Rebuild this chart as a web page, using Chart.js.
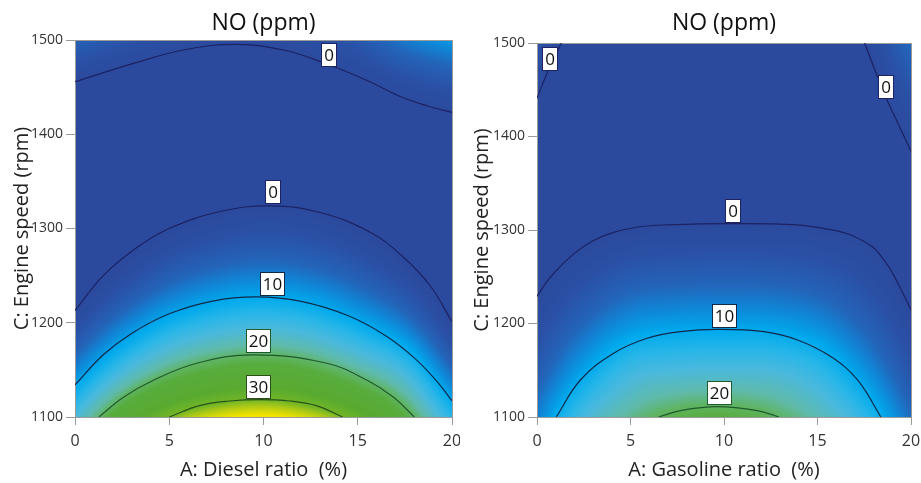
<!DOCTYPE html>
<html>
<head>
<meta charset="utf-8">
<script src="https://cdn.jsdelivr.net/npm/chart.js@4.4.1/dist/chart.umd.min.js"></script>
<style>
  html, body { margin: 0; padding: 0; background: #fff; }
  #wrap { position: relative; width: 921px; height: 483px; }
  canvas { position: absolute; top: 0; }
</style>
</head>
<body>
<div id="wrap">
  <canvas id="chartDiesel" width="460" height="483" style="left:0"></canvas>
  <canvas id="chartGasoline" width="461" height="483" style="left:460px"></canvas>
</div>
<script>
// response grid (rows = engine speed, columns = blend ratio)
const gridX = [0, 2.5, 5, 7.5, 10, 12.5, 15, 17.5, 20];
const gridC = [1100, 1150, 1200, 1250, 1300, 1350, 1400, 1450, 1500];

const dieselNO = [
  [15, 24.2, 30, 33.0, 34, 32.4, 28.5, 22, 12.5],
  [7.2, 14.4, 19.4, 22.1, 23.1, 21.7, 18.4, 14.1, 5.3],
  [1.2, 6.6, 10.8, 13.2, 14.1, 13.0, 10.2, 6.5, -0.1],
  [-2.8, 0.9, 4.2, 6.2, 7.0, 6.2, 4.1, 1.0, -3.3],
  [-5.1, -2.8, -0.4, 1.1, 1.8, 1.3, -0.1, -2.2, -4.7],
  [-5.4, -4.4, -3.0, -2.0, -1.5, -1.6, -2.2, -3.3, -4.2],
  [-3.9, -4.0, -3.6, -3.1, -2.8, -2.5, -2.4, -2.1, -1.8],
  [-0.5, -1.6, -2.2, -2.3, -2.2, -1.5, -0.6, 1.1, 2.5],
  [4.7, 2.8, 1.2, 0.4, 0.3, 1.4, 3.2, 6.6, 8.8]
];

const gasolineNO = [
  [7, 14.7, 18.8, 21.3, 21.9, 20.5, 17.5, 12.9, 5.5],
  [3.7, 9.5, 13.9, 14.9, 15.1, 14.9, 13.0, 8.35, 2.6],
  [1.1, 5.2, 8.3, 9.1, 9.2, 9.1, 7.8, 4.6, 0.46],
  [-0.64, 1.75, 3.7, 4.2, 4.35, 4.2, 3.5, 1.7, -0.8],
  [-1.6, -0.8, 0, 0.34, 0.4, 0.4, 0.1, -0.34, -1.2],
  [-1.75, -2.5, -2.8, -2.6, -2.6, -2.6, -2.4, -1.5, -0.78],
  [-1.1, -3.3, -4.8, -4.65, -4.6, -4.6, -3.9, -1.9, 0.5],
  [0.3, -3.25, -5.8, -5.7, -5.7, -5.5, -4.6, -1.4, 2.6],
  [2.5, -2.3, -5.9, -5.9, -5.9, -5.5, -3.5, 0, 5.6]
];

// contour lines, diesel
const dZeroTopX = [0, 3.1, 5.75, 8.4, 11.06, 13.5, 15.5, 17.25, 18.7, 20];
const dZeroTopC = [1455.7, 1475.2, 1489.4, 1495.4, 1489.4, 1473.5, 1457, 1440, 1430, 1423.2];
const dZeroMidX = [0, 1.5, 3.3, 5, 7.7, 10.35, 13, 15.66, 17.4, 18.85, 20];
const dZeroMidC = [1213, 1250, 1280, 1300, 1318, 1324, 1317, 1296, 1270, 1239, 1201];
const dTenX = [0, 1.5, 3, 5, 7.3, 9.6, 12, 14.5, 16.5, 18, 19.2, 20];
const dTenC = [1134, 1166, 1188.7, 1209.5, 1223, 1227.4, 1222.7, 1207.4, 1186, 1162.7, 1137.9, 1117];
const dTwentyX = [1.27, 2.57, 4.16, 6.46, 9.47, 13.36, 15.5, 16.9, 18.0];
const dTwentyC = [1100, 1121, 1139, 1157, 1166, 1157, 1139, 1121, 1100];
const dThirtyX = [5.0, 6.6, 8.2, 9.8, 11.4, 12.8, 14.2];
const dThirtyC = [1100, 1112, 1117, 1118.5, 1117, 1112, 1100];

const dLabelX = [13.5, 10.5, 10.5, 9.74, 9.74];
const dLabelC = [1484.6, 1338.6, 1241.4, 1180.9, 1131.8];
const dLabelText = ['0', '0', '10', '20', '30'];

// contour lines, gasoline
const gZeroLeftX = [0, 0.62, 1.3];
const gZeroLeftC = [1441, 1471.5, 1500];
const gZeroRightX = [17.52, 18.09, 18.72, 19.4, 20];
const gZeroRightC = [1500, 1470, 1439, 1410, 1384];
const gZeroMidX = [0, 0.5, 1, 2, 3, 4.1, 5.5, 7, 10.3, 13.9, 15.68, 16.6, 17.47, 18.0, 18.36, 18.8, 19.25, 19.6, 20];
const gZeroMidC = [1229, 1244, 1256, 1275, 1288.5, 1297.5, 1303.5, 1305.5, 1306.8, 1305.4, 1300.4, 1296, 1288, 1281, 1273, 1261, 1245, 1231, 1214.8];
const gTenX = [1.03, 2.32, 4.1, 5.89, 7.68, 9.64, 12.14, 13.93, 15.71, 17.14, 18.39];
const gTenC = [1100, 1139.6, 1168.2, 1184.2, 1191.3, 1193.8, 1191.3, 1182.4, 1164.6, 1139.6, 1100];
const gTwentyX = [6.51, 7.68, 9.64, 11.78, 12.94];
const gTwentyC = [1100, 1106.8, 1111, 1106.8, 1100];

const gLabelX = [0.68, 18.64, 10.49, 10.0, 9.74];
const gLabelC = [1482.5, 1453.3, 1320.3, 1207.6, 1125.5];
const gLabelText = ['0', '0', '0', '10', '20'];

Chart.defaults.font.family = "'Open Sans', sans-serif";

// colour ramp: value -> rgb
const rampVal = [0, 2, 5, 7.5, 10, 12.5, 15, 18, 20, 22, 27, 30, 31.5, 33.5];
const rampRgb = [
  [43, 74, 158], [42, 80, 165], [35, 100, 185], [15, 135, 215], [0, 170, 237],
  [40, 182, 232], [75, 185, 220], [95, 186, 170], [95, 180, 100], [88, 172, 60],
  [88, 170, 48], [115, 182, 38], [175, 202, 22], [242, 226, 0]
];

function colorFor(v) {
  if (v <= rampVal[0]) return rampRgb[0];
  const n = rampVal.length - 1;
  if (v >= rampVal[n]) return rampRgb[n];
  let k = 0;
  while (v > rampVal[k + 1]) k++;
  const t = (v - rampVal[k]) / (rampVal[k + 1] - rampVal[k]);
  const a = rampRgb[k], b = rampRgb[k + 1];
  return [a[0] + (b[0] - a[0]) * t, a[1] + (b[1] - a[1]) * t, a[2] + (b[2] - a[2]) * t];
}

function cr(p0, p1, p2, p3, t) {
  return p1 + 0.5 * t * (p2 - p0 + t * (2 * p0 - 5 * p1 + 4 * p2 - p3 + t * (3 * (p1 - p2) + p3 - p0)));
}

function sampleGrid(grid, xv, cv) {
  const nx = gridX.length, ny = gridC.length;
  const u = (xv - gridX[0]) / (gridX[1] - gridX[0]);
  const v = (cv - gridC[0]) / (gridC[1] - gridC[0]);
  const i = Math.min(Math.max(Math.floor(u), 0), nx - 2);
  const j = Math.min(Math.max(Math.floor(v), 0), ny - 2);
  const g = (r, c) => {
    // linear extension past the edges
    if (r < 0) return 2 * g(0, c) - g(1, c);
    if (r > ny - 1) return 2 * g(ny - 1, c) - g(ny - 2, c);
    if (c < 0) return 2 * grid[r][0] - grid[r][1];
    if (c > nx - 1) return 2 * grid[r][nx - 1] - grid[r][nx - 2];
    return grid[r][c];
  };
  const rows = [];
  for (let r = -1; r <= 2; r++) {
    rows.push(cr(g(j + r, i - 1), g(j + r, i), g(j + r, i + 1), g(j + r, i + 2), u - i));
  }
  return cr(rows[0], rows[1], rows[2], rows[3], v - j);
}

function heatmap(grid) {
  return {
    id: 'heatmap',
    beforeDraw(chart) {
      const {ctx, chartArea: a, scales: {x, y}} = chart;
      const w = Math.round(a.right - a.left), h = Math.round(a.bottom - a.top);
      const off = document.createElement('canvas');
      off.width = w; off.height = h;
      const octx = off.getContext('2d');
      const img = octx.createImageData(w, h);
      for (let j = 0; j < h; j++) {
        const c = y.getValueForPixel(a.top + j + 0.5);
        for (let i = 0; i < w; i++) {
          const col = colorFor(sampleGrid(grid, x.getValueForPixel(a.left + i + 0.5), c));
          const k = (j * w + i) * 4;
          img.data[k] = col[0]; img.data[k + 1] = col[1]; img.data[k + 2] = col[2]; img.data[k + 3] = 255;
        }
      }
      octx.putImageData(img, 0, 0);
      ctx.drawImage(off, a.left, a.top);
    }
  };
}

const lineColor = { '0': '#1c2262', '10': '#10284a', '20': '#1f5a2c', '30': '#2a5218' };

function contour(xs, cs, level) {
  return {
    data: xs.map((v, i) => ({x: v, y: cs[i]})),
    showLine: true,
    borderColor: lineColor[level],
    borderWidth: 1.2,
    pointRadius: 0,
    tension: 0.4,
    fill: false
  };
}

function labels(xs, cs, texts) {
  return {
    id: 'contourLabels',
    afterDatasetsDraw(chart) {
      const {ctx, scales: {x, y}} = chart;
      ctx.save();
      ctx.font = "17px 'Open Sans', sans-serif";
      ctx.textAlign = 'center';
      ctx.textBaseline = 'middle';
      texts.forEach((t, i) => {
        const px = x.getPixelForValue(xs[i]);
        const py = y.getPixelForValue(cs[i]);
        const w = Math.round(ctx.measureText(t).width + 6);
        const h = 24;
        const left = Math.round(px - w / 2), top = Math.round(py - h / 2);
        ctx.fillStyle = '#fff';
        ctx.fillRect(left, top, w, h);
        ctx.strokeStyle = lineColor[t];
        ctx.lineWidth = 1;
        ctx.strokeRect(left + 0.5, top + 0.5, w - 1, h - 1);
        ctx.fillStyle = '#111';
        ctx.fillText(t, left + w / 2, top + h / 2 + 1);
      });
      ctx.restore();
    }
  };
}

function scalesFor(xTitle, topH, rightW, bottomH, leftW) {
  const axisGray = '#9a9a9a';
  return {
    x: {
      type: 'linear', position: 'bottom', min: 0, max: 20,
      ticks: {stepSize: 5, font: {size: 16}, color: '#333', padding: 7},
      grid: {drawOnChartArea: false, tickLength: 8, color: axisGray},
      border: {color: axisGray},
      title: {display: true, text: xTitle, font: {size: 20}, color: '#222', padding: {top: 0, bottom: 1}},
      afterFit: s => { s.height = bottomH; s.paddingLeft = 0; s.paddingRight = 0; }
    },
    y: {
      type: 'linear', position: 'left', min: 1100, max: 1500,
      ticks: {stepSize: 100, font: {size: 14}, color: '#333', padding: 3, callback: v => String(v)},
      grid: {drawOnChartArea: false, tickLength: 9, color: axisGray},
      border: {color: axisGray},
      title: {display: true, text: 'C: Engine speed (rpm)', font: {size: 20}, color: '#222', padding: {top: 10, bottom: 0}},
      afterFit: s => { s.width = leftW; }
    },
    x2: {
      type: 'linear', position: 'top', min: 0, max: 20,
      ticks: {display: false}, grid: {display: false},
      border: {color: axisGray},
      title: {display: true, text: 'NO (ppm)', font: {size: 23}, color: '#111', padding: {top: 10, bottom: 0}},
      afterFit: s => { s.height = topH; s.paddingLeft = 0; s.paddingRight = 0; }
    },
    y2: {
      type: 'linear', position: 'right', min: 1100, max: 1500,
      ticks: {display: false}, grid: {display: false},
      border: {color: axisGray},
      afterFit: s => { s.width = rightW; }
    }
  };
}

function baseOptions(scales) {
  return {
    responsive: false,
    animation: false,
    layout: {padding: 0},
    plugins: {legend: {display: false}, tooltip: {enabled: false}},
    scales: scales
  };
}

new Chart(document.getElementById('chartDiesel'), {
  type: 'scatter',
  data: {
    datasets: [
      contour(dZeroTopX, dZeroTopC, '0'),
      contour(dZeroMidX, dZeroMidC, '0'),
      contour(dTenX, dTenC, '10'),
      contour(dTwentyX, dTwentyC, '20'),
      contour(dThirtyX, dThirtyC, '30')
    ]
  },
  options: baseOptions(scalesFor('A: Diesel ratio  (%)', 40, 8, 66, 75)),
  plugins: [heatmap(dieselNO), labels(dLabelX, dLabelC, dLabelText)]
});

new Chart(document.getElementById('chartGasoline'), {
  type: 'scatter',
  data: {
    datasets: [
      contour(gZeroLeftX, gZeroLeftC, '0'),
      contour(gZeroRightX, gZeroRightC, '0'),
      contour(gZeroMidX, gZeroMidC, '0'),
      contour(gTenX, gTenC, '10'),
      contour(gTwentyX, gTwentyC, '20')
    ]
  },
  options: baseOptions(scalesFor('A: Gasoline ratio  (%)', 43, 10, 66, 77)),
  plugins: [heatmap(gasolineNO), labels(gLabelX, gLabelC, gLabelText)]
});
</script>
</body>
</html>
